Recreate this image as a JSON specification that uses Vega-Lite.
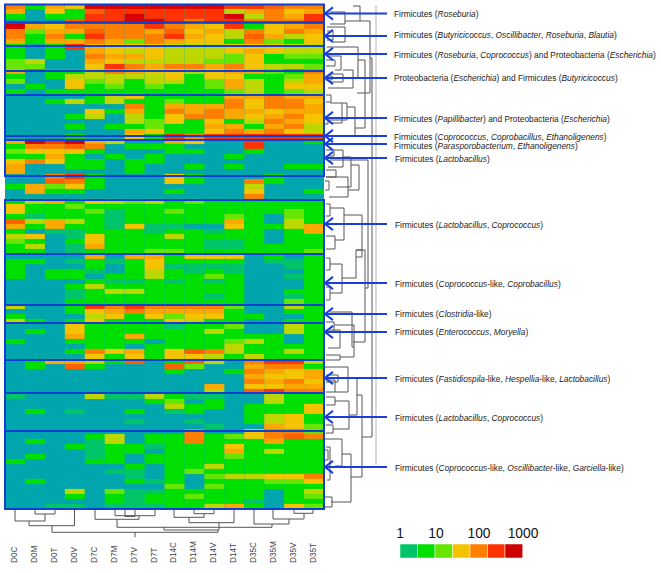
{"$schema":"https://vega.github.io/schema/vega-lite/v6.json","width":661,"height":573,"padding":0,"autosize":{"type":"fit","contains":"padding"},"background":"white","config":{"view":{"stroke":null},"axis":{"disable":true},"legend":{"disable":true}},
"resolve":{"scale":{"x":"independent","y":"independent","color":"independent"}},
"layer":[
{"data":{"values":[{"x":5,"x2":324,"y":4,"y2":509}]},"mark":{"type":"rect","fill":"#00a5ae"},"encoding":{"x":{"field":"x","type":"quantitative","scale":{"domain":[0,661],"range":[0,661]}},"x2":{"field":"x2"},"y":{"field":"y","type":"quantitative","scale":{"domain":[0,573],"range":[0,573]}},"y2":{"field":"y2"}}},
{"data":{"values":[
{"r":0,"s":"D0C","v":100},{"r":0,"s":"D0M","v":3},{"r":0,"s":"D0T","v":60},{"r":0,"s":"D0V","v":30},{"r":0,"s":"D7C","v":1000},{"r":0,"s":"D7M","v":1000},{"r":0,"s":"D7V","v":1000},{"r":0,"s":"D7T","v":1000},{"r":0,"s":"D14C","v":1000},{"r":0,"s":"D14M","v":1000},{"r":0,"s":"D14V","v":1000},{"r":0,"s":"D14T","v":300},{"r":0,"s":"D35C","v":300},{"r":0,"s":"D35M","v":200},{"r":0,"s":"D35V","v":100},{"r":0,"s":"D35T","v":100},
{"r":1,"s":"D0C","v":60},{"r":1,"s":"D0T","v":30},{"r":1,"s":"D0V","v":3},{"r":1,"s":"D7C","v":200},{"r":1,"s":"D7M","v":300},{"r":1,"s":"D7V","v":300},{"r":1,"s":"D7T","v":300},{"r":1,"s":"D14C","v":300},{"r":1,"s":"D14M","v":300},{"r":1,"s":"D14V","v":300},{"r":1,"s":"D14T","v":20},{"r":1,"s":"D35C","v":60},{"r":1,"s":"D35M","v":100},{"r":1,"s":"D35V","v":30},{"r":1,"s":"D35T","v":60},
{"r":2,"s":"D0C","v":3},{"r":2,"s":"D0T","v":3},{"r":2,"s":"D0V","v":3},{"r":2,"s":"D7C","v":300},{"r":2,"s":"D7M","v":300},{"r":2,"s":"D7V","v":1000},{"r":2,"s":"D7T","v":300},{"r":2,"s":"D14C","v":300},{"r":2,"s":"D14M","v":300},{"r":2,"s":"D14V","v":300},{"r":2,"s":"D14T","v":1000},{"r":2,"s":"D35C","v":20},{"r":2,"s":"D35M","v":100},{"r":2,"s":"D35V","v":60},{"r":2,"s":"D35T","v":300},
{"r":3,"s":"D0V","v":200},{"r":3,"s":"D7C","v":300},{"r":3,"s":"D7M","v":300},{"r":3,"s":"D7V","v":1000},{"r":3,"s":"D7T","v":1000},{"r":3,"s":"D14C","v":300},{"r":3,"s":"D14M","v":100},{"r":3,"s":"D14V","v":300},{"r":3,"s":"D14T","v":300},{"r":3,"s":"D35C","v":100},{"r":3,"s":"D35M","v":100},{"r":3,"s":"D35V","v":100},{"r":3,"s":"D35T","v":300},
{"r":4,"s":"D0C","v":1000},{"r":4,"s":"D0M","v":60},{"r":4,"s":"D0T","v":30},{"r":4,"s":"D0V","v":100},{"r":4,"s":"D7C","v":100},{"r":4,"s":"D7M","v":100},{"r":4,"s":"D7V","v":100},{"r":4,"s":"D7T","v":300},{"r":4,"s":"D14C","v":100},{"r":4,"s":"D14M","v":60},{"r":4,"s":"D14V","v":30},{"r":4,"s":"D14T","v":300},{"r":4,"s":"D35C","v":3},{"r":4,"s":"D35M","v":30},{"r":4,"s":"D35V","v":60},{"r":4,"s":"D35T","v":100},
{"r":5,"s":"D0C","v":100},{"r":5,"s":"D0M","v":10},{"r":5,"s":"D0T","v":60},{"r":5,"s":"D0V","v":60},{"r":5,"s":"D7C","v":200},{"r":5,"s":"D7M","v":100},{"r":5,"s":"D7V","v":100},{"r":5,"s":"D7T","v":60},{"r":5,"s":"D14C","v":200},{"r":5,"s":"D14M","v":30},{"r":5,"s":"D14V","v":60},{"r":5,"s":"D14T","v":20},{"r":5,"s":"D35C","v":100},{"r":5,"s":"D35M","v":30},{"r":5,"s":"D35V","v":100},{"r":5,"s":"D35T","v":60},
{"r":6,"s":"D0C","v":100},{"r":6,"s":"D0M","v":3},{"r":6,"s":"D0T","v":100},{"r":6,"s":"D0V","v":3},{"r":6,"s":"D7C","v":300},{"r":6,"s":"D7M","v":100},{"r":6,"s":"D7V","v":100},{"r":6,"s":"D7T","v":100},{"r":6,"s":"D14C","v":300},{"r":6,"s":"D14M","v":60},{"r":6,"s":"D14V","v":30},{"r":6,"s":"D14T","v":20},{"r":6,"s":"D35C","v":200},{"r":6,"s":"D35M","v":60},{"r":6,"s":"D35V","v":20},{"r":6,"s":"D35T","v":30},
{"r":7,"s":"D0C","v":60},{"r":7,"s":"D0M","v":3},{"r":7,"s":"D0T","v":60},{"r":7,"s":"D0V","v":60},{"r":7,"s":"D7C","v":100},{"r":7,"s":"D7M","v":60},{"r":7,"s":"D7V","v":10},{"r":7,"s":"D7T","v":100},{"r":7,"s":"D14C","v":60},{"r":7,"s":"D14M","v":30},{"r":7,"s":"D14V","v":30},{"r":7,"s":"D14T","v":3},{"r":7,"s":"D35C","v":100},{"r":7,"s":"D35M","v":10},{"r":7,"s":"D35V","v":3},{"r":7,"s":"D35T","v":30},
{"r":8,"s":"D0C","v":3},{"r":8,"s":"D0T","v":3},{"r":8,"s":"D0V","v":300},{"r":8,"s":"D7C","v":60},{"r":8,"s":"D7M","v":30},{"r":8,"s":"D7V","v":30},{"r":8,"s":"D7T","v":30},{"r":8,"s":"D14C","v":20},{"r":8,"s":"D14M","v":20},{"r":8,"s":"D14V","v":20},{"r":8,"s":"D14T","v":30},{"r":8,"s":"D35C","v":30},{"r":8,"s":"D35M","v":30},{"r":8,"s":"D35V","v":20},{"r":8,"s":"D35T","v":20},
{"r":9,"s":"D0C","v":3},{"r":9,"s":"D0T","v":3},{"r":9,"s":"D7C","v":60},{"r":9,"s":"D7M","v":30},{"r":9,"s":"D7V","v":20},{"r":9,"s":"D7T","v":30},{"r":9,"s":"D14C","v":20},{"r":9,"s":"D14M","v":20},{"r":9,"s":"D14V","v":20},{"r":9,"s":"D14T","v":30},{"r":9,"s":"D35C","v":60},{"r":9,"s":"D35M","v":30},{"r":9,"s":"D35V","v":20},{"r":9,"s":"D35T","v":20},
{"r":10,"s":"D0C","v":3},{"r":10,"s":"D0T","v":3},{"r":10,"s":"D7C","v":100},{"r":10,"s":"D7M","v":60},{"r":10,"s":"D7V","v":60},{"r":10,"s":"D7T","v":30},{"r":10,"s":"D14C","v":20},{"r":10,"s":"D14M","v":20},{"r":10,"s":"D14V","v":20},{"r":10,"s":"D14T","v":10},{"r":10,"s":"D35C","v":30},{"r":10,"s":"D35M","v":3},{"r":10,"s":"D35V","v":10},{"r":10,"s":"D35T","v":10},
{"r":11,"s":"D0C","v":10},{"r":11,"s":"D0M","v":20},{"r":11,"s":"D7C","v":60},{"r":11,"s":"D7M","v":30},{"r":11,"s":"D7V","v":20},{"r":11,"s":"D7T","v":20},{"r":11,"s":"D14C","v":20},{"r":11,"s":"D14M","v":20},{"r":11,"s":"D14V","v":10},{"r":11,"s":"D14T","v":10},{"r":11,"s":"D35C","v":30},{"r":11,"s":"D35M","v":3},{"r":11,"s":"D35V","v":3},{"r":11,"s":"D35T","v":3},
{"r":12,"s":"D0C","v":10},{"r":12,"s":"D0M","v":10},{"r":12,"s":"D7C","v":30},{"r":12,"s":"D7M","v":300},{"r":12,"s":"D7V","v":100},{"r":12,"s":"D7T","v":60},{"r":12,"s":"D14C","v":100},{"r":12,"s":"D14M","v":100},{"r":12,"s":"D14V","v":60},{"r":12,"s":"D14T","v":100},{"r":12,"s":"D35C","v":30},{"r":12,"s":"D35M","v":20},{"r":12,"s":"D35V","v":20},{"r":12,"s":"D35T","v":10},
{"r":13,"s":"D0C","v":60},{"r":13,"s":"D0T","v":3},{"r":13,"s":"D0V","v":3},{"r":13,"s":"D7C","v":20},{"r":13,"s":"D7M","v":100},{"r":13,"s":"D7V","v":60},{"r":13,"s":"D7T","v":30},{"r":13,"s":"D14C","v":30},{"r":13,"s":"D14M","v":20},{"r":13,"s":"D14V","v":30},{"r":13,"s":"D14T","v":60},{"r":13,"s":"D35C","v":60},{"r":13,"s":"D35M","v":10},{"r":13,"s":"D35V","v":3},{"r":13,"s":"D35T","v":100},
{"r":14,"s":"D0C","v":3},{"r":14,"s":"D0T","v":3},{"r":14,"s":"D0V","v":20},{"r":14,"s":"D7C","v":20},{"r":14,"s":"D7M","v":20},{"r":14,"s":"D7V","v":20},{"r":14,"s":"D7T","v":20},{"r":14,"s":"D14C","v":30},{"r":14,"s":"D14M","v":3},{"r":14,"s":"D14V","v":30},{"r":14,"s":"D14T","v":30},{"r":14,"s":"D35C","v":3},{"r":14,"s":"D35M","v":3},{"r":14,"s":"D35V","v":10},{"r":14,"s":"D35T","v":60},
{"r":15,"s":"D0C","v":10},{"r":15,"s":"D0V","v":30},{"r":15,"s":"D7C","v":10},{"r":15,"s":"D7M","v":20},{"r":15,"s":"D7V","v":3},{"r":15,"s":"D7T","v":20},{"r":15,"s":"D14C","v":20},{"r":15,"s":"D14M","v":3},{"r":15,"s":"D14V","v":10},{"r":15,"s":"D14T","v":60},{"r":15,"s":"D35C","v":20},{"r":15,"s":"D35M","v":3},{"r":15,"s":"D35V","v":20},{"r":15,"s":"D35T","v":60},
{"r":16,"s":"D0M","v":3},{"r":16,"s":"D0V","v":30},{"r":16,"s":"D7C","v":3},{"r":16,"s":"D7M","v":10},{"r":16,"s":"D7V","v":3},{"r":16,"s":"D7T","v":10},{"r":16,"s":"D14C","v":3},{"r":16,"s":"D14M","v":3},{"r":16,"s":"D14V","v":10},{"r":16,"s":"D14T","v":60},{"r":16,"s":"D35C","v":20},{"r":16,"s":"D35M","v":3},{"r":16,"s":"D35V","v":30},{"r":16,"s":"D35T","v":30},
{"r":17,"s":"D0C","v":3},{"r":17,"s":"D0T","v":3},{"r":17,"s":"D0V","v":3},{"r":17,"s":"D7C","v":3},{"r":17,"s":"D7M","v":3},{"r":17,"s":"D7V","v":3},{"r":17,"s":"D7T","v":3},{"r":17,"s":"D14C","v":3},{"r":17,"s":"D14M","v":3},{"r":17,"s":"D14V","v":3},{"r":17,"s":"D14T","v":10},{"r":17,"s":"D35C","v":20},{"r":17,"s":"D35M","v":3},{"r":17,"s":"D35V","v":10},{"r":17,"s":"D35T","v":20},
{"r":18,"s":"D7C","v":3},{"r":18,"s":"D7M","v":20},{"r":18,"s":"D7V","v":30},{"r":18,"s":"D7T","v":3},{"r":18,"s":"D14C","v":3},{"r":18,"s":"D14M","v":3},{"r":18,"s":"D14V","v":3},{"r":18,"s":"D14T","v":60},{"r":18,"s":"D35C","v":60},{"r":18,"s":"D35M","v":100},{"r":18,"s":"D35V","v":60},{"r":18,"s":"D35T","v":60},
{"r":19,"s":"D0T","v":3},{"r":19,"s":"D0V","v":20},{"r":19,"s":"D7C","v":3},{"r":19,"s":"D7M","v":20},{"r":19,"s":"D7V","v":3},{"r":19,"s":"D7T","v":3},{"r":19,"s":"D14C","v":10},{"r":19,"s":"D14M","v":3},{"r":19,"s":"D14V","v":3},{"r":19,"s":"D14T","v":100},{"r":19,"s":"D35C","v":30},{"r":19,"s":"D35M","v":100},{"r":19,"s":"D35V","v":100},{"r":19,"s":"D35T","v":30},
{"r":20,"s":"D7V","v":100},{"r":20,"s":"D7T","v":3},{"r":20,"s":"D14C","v":60},{"r":20,"s":"D14M","v":60},{"r":20,"s":"D14V","v":60},{"r":20,"s":"D14T","v":100},{"r":20,"s":"D35C","v":30},{"r":20,"s":"D35M","v":100},{"r":20,"s":"D35V","v":100},{"r":20,"s":"D35T","v":60},
{"r":21,"s":"D7C","v":30},{"r":21,"s":"D7M","v":3},{"r":21,"s":"D7V","v":60},{"r":21,"s":"D7T","v":3},{"r":21,"s":"D14C","v":100},{"r":21,"s":"D14M","v":60},{"r":21,"s":"D14V","v":100},{"r":21,"s":"D14T","v":60},{"r":21,"s":"D35C","v":60},{"r":21,"s":"D35M","v":30},{"r":21,"s":"D35V","v":60},{"r":21,"s":"D35T","v":60},
{"r":22,"s":"D0V","v":3},{"r":22,"s":"D7C","v":20},{"r":22,"s":"D7V","v":20},{"r":22,"s":"D7T","v":3},{"r":22,"s":"D14C","v":30},{"r":22,"s":"D14M","v":100},{"r":22,"s":"D14V","v":100},{"r":22,"s":"D14T","v":60},{"r":22,"s":"D35C","v":30},{"r":22,"s":"D35M","v":60},{"r":22,"s":"D35V","v":100},{"r":22,"s":"D35T","v":30},
{"r":23,"s":"D7V","v":20},{"r":23,"s":"D7T","v":10},{"r":23,"s":"D14C","v":30},{"r":23,"s":"D14M","v":3},{"r":23,"s":"D14V","v":30},{"r":23,"s":"D14T","v":3},{"r":23,"s":"D35C","v":20},{"r":23,"s":"D35M","v":100},{"r":23,"s":"D35V","v":60},{"r":23,"s":"D35T","v":30},
{"r":24,"s":"D0V","v":3},{"r":24,"s":"D7M","v":3},{"r":24,"s":"D7V","v":3},{"r":24,"s":"D7T","v":10},{"r":24,"s":"D14C","v":3},{"r":24,"s":"D14M","v":3},{"r":24,"s":"D14V","v":60},{"r":24,"s":"D14T","v":60},{"r":24,"s":"D35C","v":3},{"r":24,"s":"D35M","v":60},{"r":24,"s":"D35V","v":100},{"r":24,"s":"D35T","v":20},
{"r":25,"s":"D7V","v":60},{"r":25,"s":"D7T","v":30},{"r":25,"s":"D14C","v":3},{"r":25,"s":"D14M","v":3},{"r":25,"s":"D14V","v":30},{"r":25,"s":"D14T","v":100},{"r":25,"s":"D35C","v":60},{"r":25,"s":"D35M","v":100},{"r":25,"s":"D35V","v":30},{"r":25,"s":"D35T","v":20},
{"r":26,"s":"D0V","v":3},{"r":26,"s":"D7V","v":30},{"r":26,"s":"D7T","v":3},{"r":26,"s":"D14C","v":300},{"r":26,"s":"D14M","v":100},{"r":26,"s":"D14V","v":300},{"r":26,"s":"D14T","v":300},{"r":26,"s":"D35C","v":300},{"r":26,"s":"D35M","v":300},{"r":26,"s":"D35V","v":300},{"r":26,"s":"D35T","v":300},
{"r":27,"s":"D0C","v":60},{"r":27,"s":"D0M","v":1000},{"r":27,"s":"D0T","v":300},{"r":27,"s":"D0V","v":1000},{"r":27,"s":"D7C","v":60},{"r":27,"s":"D7M","v":20},{"r":27,"s":"D14C","v":60},{"r":27,"s":"D14M","v":30},{"r":27,"s":"D35C","v":300},{"r":27,"s":"D35T","v":3},
{"r":28,"s":"D0C","v":3},{"r":28,"s":"D0M","v":100},{"r":28,"s":"D0T","v":100},{"r":28,"s":"D0V","v":200},{"r":28,"s":"D7C","v":100},{"r":28,"s":"D7V","v":3},{"r":28,"s":"D7T","v":3},{"r":28,"s":"D14C","v":3},{"r":28,"s":"D35C","v":300},
{"r":29,"s":"D0C","v":10},{"r":29,"s":"D0M","v":30},{"r":29,"s":"D0T","v":30},{"r":29,"s":"D0V","v":30},{"r":29,"s":"D7C","v":3},{"r":29,"s":"D14C","v":3},{"r":29,"s":"D14M","v":3},{"r":29,"s":"D35C","v":3},
{"r":30,"s":"D0C","v":3},{"r":30,"s":"D0M","v":3},{"r":30,"s":"D0T","v":60},{"r":30,"s":"D0V","v":3},{"r":30,"s":"D7M","v":3},{"r":30,"s":"D7T","v":3},{"r":30,"s":"D14T","v":3},
{"r":31,"s":"D0C","v":30},{"r":31,"s":"D0M","v":100},{"r":31,"s":"D0T","v":30},{"r":31,"s":"D0V","v":3},{"r":31,"s":"D7C","v":3},{"r":31,"s":"D7V","v":3},{"r":31,"s":"D7T","v":3},
{"r":32,"s":"D0C","v":60},{"r":32,"s":"D0V","v":3},{"r":32,"s":"D7C","v":3},{"r":32,"s":"D7V","v":3},{"r":32,"s":"D14M","v":3},{"r":32,"s":"D14T","v":3},{"r":32,"s":"D35V","v":3},{"r":32,"s":"D35T","v":3},
{"r":33,"s":"D0C","v":60},{"r":33,"s":"D7V","v":3},
{"r":34,"s":"D0T","v":100},{"r":34,"s":"D0V","v":300},{"r":34,"s":"D7C","v":3},{"r":34,"s":"D14C","v":30},{"r":34,"s":"D14M","v":3},{"r":34,"s":"D35M","v":3},
{"r":35,"s":"D0T","v":200},{"r":35,"s":"D0V","v":100},{"r":35,"s":"D7C","v":3},{"r":35,"s":"D14C","v":30},{"r":35,"s":"D14M","v":3},{"r":35,"s":"D35C","v":100},{"r":35,"s":"D35M","v":3},
{"r":36,"s":"D0C","v":3},{"r":36,"s":"D0M","v":60},{"r":36,"s":"D0T","v":10},{"r":36,"s":"D0V","v":30},{"r":36,"s":"D7C","v":3},{"r":36,"s":"D35C","v":20},
{"r":37,"s":"D0M","v":60},{"r":37,"s":"D0T","v":3},{"r":37,"s":"D0V","v":3},{"r":37,"s":"D14C","v":3},{"r":37,"s":"D35C","v":30},{"r":37,"s":"D35T","v":3},
{"r":38,"s":"D35C","v":100},
{"r":39,"s":"D0C","v":3},{"r":39,"s":"D0M","v":20},{"r":39,"s":"D0T","v":60},{"r":39,"s":"D0V","v":3},{"r":39,"s":"D7C","v":30},{"r":39,"s":"D7M","v":20},{"r":39,"s":"D7V","v":10},{"r":39,"s":"D7T","v":20},{"r":39,"s":"D14C","v":3},{"r":39,"s":"D14M","v":10},{"r":39,"s":"D14V","v":3},{"r":39,"s":"D14T","v":3},{"r":39,"s":"D35C","v":3},{"r":39,"s":"D35M","v":3},{"r":39,"s":"D35V","v":3},{"r":39,"s":"D35T","v":3},
{"r":40,"s":"D0C","v":30},{"r":40,"s":"D0M","v":3},{"r":40,"s":"D0T","v":3},{"r":40,"s":"D0V","v":10},{"r":40,"s":"D7C","v":3},{"r":40,"s":"D7M","v":3},{"r":40,"s":"D7V","v":3},{"r":40,"s":"D7T","v":3},{"r":40,"s":"D14C","v":3},{"r":40,"s":"D14M","v":3},{"r":40,"s":"D14V","v":3},{"r":40,"s":"D14T","v":3},{"r":40,"s":"D35C","v":3},{"r":40,"s":"D35M","v":3},{"r":40,"s":"D35V","v":3},{"r":40,"s":"D35T","v":3},
{"r":41,"s":"D0C","v":30},{"r":41,"s":"D0M","v":3},{"r":41,"s":"D0T","v":3},{"r":41,"s":"D0V","v":3},{"r":41,"s":"D7C","v":10},{"r":41,"s":"D7M","v":1},{"r":41,"s":"D7V","v":3},{"r":41,"s":"D7T","v":3},{"r":41,"s":"D14C","v":10},{"r":41,"s":"D14M","v":3},{"r":41,"s":"D14V","v":3},{"r":41,"s":"D14T","v":3},{"r":41,"s":"D35C","v":3},{"r":41,"s":"D35M","v":3},{"r":41,"s":"D35V","v":10},{"r":41,"s":"D35T","v":3},
{"r":42,"s":"D0C","v":3},{"r":42,"s":"D0M","v":1},{"r":42,"s":"D0T","v":3},{"r":42,"s":"D0V","v":3},{"r":42,"s":"D7C","v":3},{"r":42,"s":"D7M","v":1},{"r":42,"s":"D7V","v":3},{"r":42,"s":"D7T","v":3},{"r":42,"s":"D14C","v":3},{"r":42,"s":"D14M","v":3},{"r":42,"s":"D14V","v":3},{"r":42,"s":"D14T","v":10},{"r":42,"s":"D35C","v":3},{"r":42,"s":"D35V","v":10},{"r":42,"s":"D35T","v":3},
{"r":43,"s":"D0C","v":200},{"r":43,"s":"D0M","v":20},{"r":43,"s":"D0T","v":60},{"r":43,"s":"D0V","v":20},{"r":43,"s":"D7C","v":3},{"r":43,"s":"D7M","v":1},{"r":43,"s":"D7V","v":3},{"r":43,"s":"D7T","v":3},{"r":43,"s":"D14C","v":3},{"r":43,"s":"D14M","v":3},{"r":43,"s":"D14V","v":3},{"r":43,"s":"D14T","v":60},{"r":43,"s":"D35C","v":3},{"r":43,"s":"D35V","v":20},{"r":43,"s":"D35T","v":3},
{"r":44,"s":"D0C","v":60},{"r":44,"s":"D0M","v":3},{"r":44,"s":"D0T","v":60},{"r":44,"s":"D0V","v":3},{"r":44,"s":"D7C","v":3},{"r":44,"s":"D7M","v":1},{"r":44,"s":"D7V","v":30},{"r":44,"s":"D7T","v":1},{"r":44,"s":"D14C","v":1},{"r":44,"s":"D14T","v":30},{"r":44,"s":"D35C","v":3},{"r":44,"s":"D35M","v":3},{"r":44,"s":"D35V","v":20},{"r":44,"s":"D35T","v":60},
{"r":45,"s":"D0C","v":3},{"r":45,"s":"D0T","v":1},{"r":45,"s":"D0V","v":1},{"r":45,"s":"D7C","v":3},{"r":45,"s":"D7M","v":3},{"r":45,"s":"D7V","v":3},{"r":45,"s":"D7T","v":1},{"r":45,"s":"D14C","v":3},{"r":45,"s":"D14M","v":3},{"r":45,"s":"D14V","v":1},{"r":45,"s":"D14T","v":3},{"r":45,"s":"D35C","v":3},{"r":45,"s":"D35V","v":3},{"r":45,"s":"D35T","v":60},
{"r":46,"s":"D0C","v":20},{"r":46,"s":"D0M","v":30},{"r":46,"s":"D0V","v":1},{"r":46,"s":"D7C","v":30},{"r":46,"s":"D7M","v":3},{"r":46,"s":"D7V","v":3},{"r":46,"s":"D7T","v":3},{"r":46,"s":"D14C","v":20},{"r":46,"s":"D14M","v":3},{"r":46,"s":"D14V","v":3},{"r":46,"s":"D14T","v":3},{"r":46,"s":"D35C","v":3},{"r":46,"s":"D35V","v":3},{"r":46,"s":"D35T","v":3},
{"r":47,"s":"D0C","v":10},{"r":47,"s":"D0M","v":3},{"r":47,"s":"D0V","v":3},{"r":47,"s":"D7C","v":30},{"r":47,"s":"D7M","v":3},{"r":47,"s":"D7V","v":3},{"r":47,"s":"D7T","v":3},{"r":47,"s":"D14C","v":3},{"r":47,"s":"D14M","v":3},{"r":47,"s":"D14V","v":1},{"r":47,"s":"D14T","v":1},{"r":47,"s":"D35C","v":3},{"r":47,"s":"D35V","v":3},{"r":47,"s":"D35T","v":3},
{"r":48,"s":"D0C","v":3},{"r":48,"s":"D0M","v":20},{"r":48,"s":"D0V","v":1},{"r":48,"s":"D7C","v":60},{"r":48,"s":"D7M","v":3},{"r":48,"s":"D7V","v":3},{"r":48,"s":"D7T","v":3},{"r":48,"s":"D14C","v":3},{"r":48,"s":"D14M","v":3},{"r":48,"s":"D14V","v":1},{"r":48,"s":"D14T","v":1},{"r":48,"s":"D35C","v":3},{"r":48,"s":"D35M","v":3},{"r":48,"s":"D35V","v":3},{"r":48,"s":"D35T","v":3},
{"r":49,"s":"D0C","v":3},{"r":49,"s":"D0M","v":3},{"r":49,"s":"D0V","v":1},{"r":49,"s":"D7C","v":3},{"r":49,"s":"D7M","v":3},{"r":49,"s":"D7V","v":3},{"r":49,"s":"D7T","v":10},{"r":49,"s":"D14C","v":10},{"r":49,"s":"D14M","v":3},{"r":49,"s":"D14V","v":3},{"r":49,"s":"D14T","v":3},{"r":49,"s":"D35C","v":3},{"r":49,"s":"D35M","v":3},{"r":49,"s":"D35V","v":3},{"r":49,"s":"D35T","v":10},
{"r":50,"s":"D7C","v":60},{"r":50,"s":"D7V","v":60},{"r":50,"s":"D7T","v":60},{"r":50,"s":"D14C","v":3},{"r":50,"s":"D14M","v":30},{"r":50,"s":"D14V","v":30},{"r":50,"s":"D14T","v":30},{"r":50,"s":"D35M","v":3},{"r":50,"s":"D35T","v":3},
{"r":51,"s":"D0C","v":3},{"r":51,"s":"D0M","v":3},{"r":51,"s":"D0V","v":1},{"r":51,"s":"D7C","v":3},{"r":51,"s":"D7M","v":1},{"r":51,"s":"D7V","v":3},{"r":51,"s":"D7T","v":30},{"r":51,"s":"D14C","v":3},{"r":51,"s":"D14M","v":3},{"r":51,"s":"D14V","v":3},{"r":51,"s":"D14T","v":3},{"r":51,"s":"D35M","v":1},{"r":51,"s":"D35V","v":1},{"r":51,"s":"D35T","v":3},
{"r":52,"s":"D0C","v":3},{"r":52,"s":"D7C","v":3},{"r":52,"s":"D7V","v":3},{"r":52,"s":"D7T","v":30},{"r":52,"s":"D14C","v":1},{"r":52,"s":"D14M","v":1},{"r":52,"s":"D14V","v":1},{"r":52,"s":"D14T","v":1},{"r":52,"s":"D35V","v":1},{"r":52,"s":"D35T","v":3},
{"r":53,"s":"D0C","v":3},{"r":53,"s":"D0T","v":3},{"r":53,"s":"D0V","v":3},{"r":53,"s":"D7C","v":1},{"r":53,"s":"D7V","v":3},{"r":53,"s":"D7T","v":20},{"r":53,"s":"D14C","v":3},{"r":53,"s":"D14M","v":1},{"r":53,"s":"D14V","v":3},{"r":53,"s":"D14T","v":1},{"r":53,"s":"D35T","v":3},
{"r":54,"s":"D0C","v":3},{"r":54,"s":"D0T","v":3},{"r":54,"s":"D0V","v":3},{"r":54,"s":"D7M","v":3},{"r":54,"s":"D7V","v":3},{"r":54,"s":"D7T","v":20},{"r":54,"s":"D14C","v":3},{"r":54,"s":"D14M","v":3},{"r":54,"s":"D14V","v":10},{"r":54,"s":"D14T","v":3},{"r":54,"s":"D35V","v":1},{"r":54,"s":"D35T","v":3},
{"r":55,"s":"D7C","v":3},{"r":55,"s":"D7M","v":1},{"r":55,"s":"D7V","v":1},{"r":55,"s":"D7T","v":3},{"r":55,"s":"D14C","v":1},{"r":55,"s":"D14M","v":3},{"r":55,"s":"D14V","v":1},{"r":55,"s":"D14T","v":3},{"r":55,"s":"D35T","v":3},
{"r":56,"s":"D0V","v":3},{"r":56,"s":"D7C","v":20},{"r":56,"s":"D7M","v":3},{"r":56,"s":"D7V","v":3},{"r":56,"s":"D7T","v":3},{"r":56,"s":"D14C","v":3},{"r":56,"s":"D14M","v":3},{"r":56,"s":"D14V","v":3},{"r":56,"s":"D14T","v":3},{"r":56,"s":"D35T","v":3},
{"r":57,"s":"D0V","v":1},{"r":57,"s":"D7C","v":3},{"r":57,"s":"D7M","v":20},{"r":57,"s":"D7V","v":20},{"r":57,"s":"D7T","v":3},{"r":57,"s":"D14C","v":3},{"r":57,"s":"D14M","v":3},{"r":57,"s":"D14V","v":3},{"r":57,"s":"D14T","v":3},{"r":57,"s":"D35V","v":3},{"r":57,"s":"D35T","v":3},
{"r":58,"s":"D0V","v":1},{"r":58,"s":"D7C","v":3},{"r":58,"s":"D7M","v":3},{"r":58,"s":"D7V","v":3},{"r":58,"s":"D7T","v":3},{"r":58,"s":"D14C","v":3},{"r":58,"s":"D14M","v":3},{"r":58,"s":"D14V","v":1},{"r":58,"s":"D14T","v":3},{"r":58,"s":"D35V","v":1},{"r":58,"s":"D35T","v":3},
{"r":59,"s":"D0V","v":3},{"r":59,"s":"D7C","v":3},{"r":59,"s":"D7M","v":3},{"r":59,"s":"D7V","v":3},{"r":59,"s":"D7T","v":3},{"r":59,"s":"D14C","v":3},{"r":59,"s":"D14M","v":3},{"r":59,"s":"D14V","v":3},{"r":59,"s":"D14T","v":3},{"r":59,"s":"D35V","v":10},{"r":59,"s":"D35T","v":3},
{"r":60,"s":"D0C","v":20},{"r":60,"s":"D0V","v":3},{"r":60,"s":"D7C","v":300},{"r":60,"s":"D7M","v":100},{"r":60,"s":"D7V","v":300},{"r":60,"s":"D7T","v":100},{"r":60,"s":"D14C","v":100},{"r":60,"s":"D14M","v":100},{"r":60,"s":"D14V","v":100},{"r":60,"s":"D14T","v":10},{"r":60,"s":"D35V","v":20},{"r":60,"s":"D35T","v":3},
{"r":61,"s":"D0V","v":3},{"r":61,"s":"D7C","v":30},{"r":61,"s":"D7M","v":60},{"r":61,"s":"D7V","v":100},{"r":61,"s":"D7T","v":60},{"r":61,"s":"D14C","v":60},{"r":61,"s":"D14M","v":60},{"r":61,"s":"D14V","v":60},{"r":61,"s":"D14T","v":3},{"r":61,"s":"D35V","v":3},{"r":61,"s":"D35T","v":3},
{"r":62,"s":"D0C","v":3},{"r":62,"s":"D7C","v":20},{"r":62,"s":"D7M","v":30},{"r":62,"s":"D7V","v":3},{"r":62,"s":"D7T","v":30},{"r":62,"s":"D14C","v":10},{"r":62,"s":"D14M","v":30},{"r":62,"s":"D14V","v":30},{"r":62,"s":"D14T","v":3},{"r":62,"s":"D35C","v":3},{"r":62,"s":"D35T","v":3},
{"r":63,"s":"D0C","v":20},{"r":63,"s":"D0M","v":3},{"r":63,"s":"D0V","v":3},{"r":63,"s":"D7C","v":30},{"r":63,"s":"D7M","v":3},{"r":63,"s":"D7V","v":3},{"r":63,"s":"D7T","v":3},{"r":63,"s":"D14C","v":30},{"r":63,"s":"D14M","v":20},{"r":63,"s":"D14V","v":3},{"r":63,"s":"D14T","v":3},{"r":63,"s":"D35V","v":3},{"r":63,"s":"D35T","v":3},
{"r":64,"s":"D0V","v":30},{"r":64,"s":"D7C","v":3},{"r":64,"s":"D7M","v":3},{"r":64,"s":"D7V","v":3},{"r":64,"s":"D7T","v":3},{"r":64,"s":"D14C","v":1},{"r":64,"s":"D14M","v":3},{"r":64,"s":"D14V","v":3},{"r":64,"s":"D14T","v":10},{"r":64,"s":"D35V","v":20},{"r":64,"s":"D35T","v":3},
{"r":65,"s":"D0M","v":3},{"r":65,"s":"D0V","v":30},{"r":65,"s":"D7C","v":3},{"r":65,"s":"D7M","v":3},{"r":65,"s":"D7V","v":3},{"r":65,"s":"D7T","v":3},{"r":65,"s":"D14C","v":3},{"r":65,"s":"D14M","v":3},{"r":65,"s":"D14V","v":20},{"r":65,"s":"D14T","v":3},{"r":65,"s":"D35V","v":20},{"r":65,"s":"D35T","v":3},
{"r":66,"s":"D0V","v":60},{"r":66,"s":"D7C","v":3},{"r":66,"s":"D7M","v":3},{"r":66,"s":"D7V","v":60},{"r":66,"s":"D7T","v":3},{"r":66,"s":"D14C","v":3},{"r":66,"s":"D14M","v":3},{"r":66,"s":"D14V","v":3},{"r":66,"s":"D14T","v":3},{"r":66,"s":"D35C","v":3},{"r":66,"s":"D35M","v":3},{"r":66,"s":"D35T","v":3},
{"r":67,"s":"D0C","v":3},{"r":67,"s":"D0V","v":3},{"r":67,"s":"D7C","v":3},{"r":67,"s":"D7M","v":3},{"r":67,"s":"D7V","v":3},{"r":67,"s":"D14C","v":3},{"r":67,"s":"D14M","v":3},{"r":67,"s":"D14V","v":3},{"r":67,"s":"D14T","v":10},{"r":67,"s":"D35C","v":20},{"r":67,"s":"D35M","v":3},{"r":67,"s":"D35T","v":3},
{"r":68,"s":"D7C","v":3},{"r":68,"s":"D7M","v":3},{"r":68,"s":"D7T","v":3},{"r":68,"s":"D14C","v":3},{"r":68,"s":"D14M","v":3},{"r":68,"s":"D14V","v":3},{"r":68,"s":"D14T","v":20},{"r":68,"s":"D35C","v":3},{"r":68,"s":"D35M","v":3},{"r":68,"s":"D35V","v":3},{"r":68,"s":"D35T","v":3},
{"r":69,"s":"D0V","v":3},{"r":69,"s":"D7C","v":100},{"r":69,"s":"D7M","v":30},{"r":69,"s":"D7V","v":60},{"r":69,"s":"D7T","v":3},{"r":69,"s":"D14C","v":30},{"r":69,"s":"D14M","v":200},{"r":69,"s":"D14V","v":100},{"r":69,"s":"D14T","v":20},{"r":69,"s":"D35C","v":3},{"r":69,"s":"D35M","v":3},{"r":69,"s":"D35V","v":20},{"r":69,"s":"D35T","v":3},
{"r":70,"s":"D7C","v":30},{"r":70,"s":"D7M","v":3},{"r":70,"s":"D7V","v":30},{"r":70,"s":"D7T","v":3},{"r":70,"s":"D14C","v":30},{"r":70,"s":"D14M","v":30},{"r":70,"s":"D14V","v":20},{"r":70,"s":"D14T","v":3},{"r":70,"s":"D35C","v":20},{"r":70,"s":"D35M","v":3},{"r":70,"s":"D35V","v":3},{"r":70,"s":"D35T","v":3},
{"r":71,"s":"D0M","v":3},{"r":71,"s":"D0T","v":60},{"r":71,"s":"D0V","v":60},{"r":71,"s":"D7C","v":20},{"r":71,"s":"D7M","v":3},{"r":71,"s":"D7V","v":200},{"r":71,"s":"D14C","v":3},{"r":71,"s":"D14M","v":200},{"r":71,"s":"D14V","v":20},{"r":71,"s":"D35C","v":100},{"r":71,"s":"D35M","v":300},{"r":71,"s":"D35V","v":300},{"r":71,"s":"D35T","v":20},
{"r":72,"s":"D0M","v":3},{"r":72,"s":"D0V","v":200},{"r":72,"s":"D7C","v":3},{"r":72,"s":"D14C","v":200},{"r":72,"s":"D14M","v":10},{"r":72,"s":"D35C","v":60},{"r":72,"s":"D35M","v":100},{"r":72,"s":"D35V","v":100},{"r":72,"s":"D35T","v":3},
{"r":73,"s":"D14C","v":3},{"r":73,"s":"D14T","v":3},{"r":73,"s":"D35C","v":100},{"r":73,"s":"D35M","v":60},{"r":73,"s":"D35V","v":30},{"r":73,"s":"D35T","v":60},
{"r":74,"s":"D35C","v":60},{"r":74,"s":"D35M","v":30},{"r":74,"s":"D35V","v":30},{"r":74,"s":"D35T","v":60},
{"r":75,"s":"D35C","v":100},{"r":75,"s":"D35M","v":60},{"r":75,"s":"D35V","v":100},{"r":75,"s":"D35T","v":30},
{"r":76,"s":"D14V","v":60},{"r":76,"s":"D35C","v":30},{"r":76,"s":"D35M","v":30},{"r":76,"s":"D35V","v":60},{"r":76,"s":"D35T","v":60},
{"r":77,"s":"D14V","v":20},{"r":77,"s":"D35C","v":200},{"r":77,"s":"D35M","v":300},{"r":77,"s":"D35V","v":100},{"r":77,"s":"D35T","v":100},
{"r":78,"s":"D0C","v":1},{"r":78,"s":"D7C","v":20},{"r":78,"s":"D7M","v":1},{"r":78,"s":"D7V","v":1},{"r":78,"s":"D7T","v":20},{"r":78,"s":"D14C","v":3},{"r":78,"s":"D14M","v":1},{"r":78,"s":"D14V","v":1},{"r":78,"s":"D35M","v":20},{"r":78,"s":"D35V","v":3},{"r":78,"s":"D35T","v":3},
{"r":79,"s":"D7T","v":3},{"r":79,"s":"D14C","v":10},{"r":79,"s":"D14V","v":3},{"r":79,"s":"D35M","v":20},{"r":79,"s":"D35V","v":3},{"r":79,"s":"D35T","v":3},
{"r":80,"s":"D14C","v":20},{"r":80,"s":"D14M","v":3},{"r":80,"s":"D14V","v":3},{"r":80,"s":"D35C","v":3},{"r":80,"s":"D35M","v":3},{"r":80,"s":"D35V","v":3},{"r":80,"s":"D35T","v":30},
{"r":81,"s":"D0M","v":3},{"r":81,"s":"D0V","v":1},{"r":81,"s":"D7V","v":3},{"r":81,"s":"D14C","v":1},{"r":81,"s":"D14M","v":3},{"r":81,"s":"D35C","v":3},{"r":81,"s":"D35M","v":3},{"r":81,"s":"D35V","v":3},{"r":81,"s":"D35T","v":30},
{"r":82,"s":"D35C","v":3},{"r":82,"s":"D35M","v":20},{"r":82,"s":"D35V","v":30},{"r":82,"s":"D35T","v":3},
{"r":83,"s":"D7V","v":1},{"r":83,"s":"D14M","v":1},{"r":83,"s":"D35C","v":3},{"r":83,"s":"D35M","v":20},{"r":83,"s":"D35V","v":30},{"r":83,"s":"D35T","v":3},
{"r":84,"s":"D14V","v":1},{"r":84,"s":"D35M","v":60},{"r":84,"s":"D35V","v":30},{"r":84,"s":"D35T","v":10},
{"r":85,"s":"D14M","v":100},{"r":85,"s":"D35C","v":30},{"r":85,"s":"D35M","v":100},{"r":85,"s":"D35V","v":100},{"r":85,"s":"D35T","v":10},
{"r":86,"s":"D7C","v":3},{"r":86,"s":"D7M","v":20},{"r":86,"s":"D7T","v":3},{"r":86,"s":"D14C","v":3},{"r":86,"s":"D14M","v":100},{"r":86,"s":"D14V","v":3},{"r":86,"s":"D14T","v":10},{"r":86,"s":"D35C","v":30},{"r":86,"s":"D35M","v":100},{"r":86,"s":"D35V","v":200},{"r":86,"s":"D35T","v":100},
{"r":87,"s":"D0M","v":3},{"r":87,"s":"D7C","v":1},{"r":87,"s":"D7M","v":20},{"r":87,"s":"D7T","v":3},{"r":87,"s":"D14C","v":3},{"r":87,"s":"D14M","v":100},{"r":87,"s":"D14V","v":3},{"r":87,"s":"D14T","v":3},{"r":87,"s":"D35C","v":3},{"r":87,"s":"D35M","v":60},{"r":87,"s":"D35V","v":3},{"r":87,"s":"D35T","v":3},
{"r":88,"s":"D0V","v":3},{"r":88,"s":"D7C","v":1},{"r":88,"s":"D7M","v":3},{"r":88,"s":"D7V","v":3},{"r":88,"s":"D7T","v":1},{"r":88,"s":"D14C","v":3},{"r":88,"s":"D14M","v":3},{"r":88,"s":"D14V","v":3},{"r":88,"s":"D14T","v":30},{"r":88,"s":"D35C","v":3},{"r":88,"s":"D35M","v":3},{"r":88,"s":"D35V","v":3},{"r":88,"s":"D35T","v":3},
{"r":89,"s":"D7C","v":1},{"r":89,"s":"D7M","v":3},{"r":89,"s":"D7V","v":3},{"r":89,"s":"D14C","v":3},{"r":89,"s":"D14M","v":3},{"r":89,"s":"D14V","v":3},{"r":89,"s":"D14T","v":60},{"r":89,"s":"D35C","v":3},{"r":89,"s":"D35M","v":20},{"r":89,"s":"D35V","v":3},{"r":89,"s":"D35T","v":3},
{"r":90,"s":"D0M","v":3},{"r":90,"s":"D7C","v":1},{"r":90,"s":"D7M","v":3},{"r":90,"s":"D7T","v":3},{"r":90,"s":"D14C","v":3},{"r":90,"s":"D14M","v":3},{"r":90,"s":"D14V","v":3},{"r":90,"s":"D14T","v":10},{"r":90,"s":"D35C","v":3},{"r":90,"s":"D35M","v":3},{"r":90,"s":"D35V","v":3},{"r":90,"s":"D35T","v":3},
{"r":91,"s":"D0C","v":3},{"r":91,"s":"D7C","v":3},{"r":91,"s":"D7M","v":3},{"r":91,"s":"D7T","v":3},{"r":91,"s":"D14C","v":3},{"r":91,"s":"D14M","v":3},{"r":91,"s":"D14V","v":3},{"r":91,"s":"D14T","v":3},{"r":91,"s":"D35C","v":3},{"r":91,"s":"D35M","v":3},{"r":91,"s":"D35V","v":3},{"r":91,"s":"D35T","v":3},
{"r":92,"s":"D7V","v":3},{"r":92,"s":"D14C","v":3},{"r":92,"s":"D14M","v":3},{"r":92,"s":"D14V","v":20},{"r":92,"s":"D14T","v":3},{"r":92,"s":"D35C","v":3},{"r":92,"s":"D35M","v":3},{"r":92,"s":"D35V","v":3},{"r":92,"s":"D35T","v":3},
{"r":93,"s":"D7M","v":1},{"r":93,"s":"D7V","v":1},{"r":93,"s":"D14C","v":3},{"r":93,"s":"D14M","v":10},{"r":93,"s":"D14V","v":3},{"r":93,"s":"D14T","v":3},{"r":93,"s":"D35C","v":3},{"r":93,"s":"D35M","v":3},{"r":93,"s":"D35V","v":3},{"r":93,"s":"D35T","v":3},
{"r":94,"s":"D7V","v":1},{"r":94,"s":"D14C","v":3},{"r":94,"s":"D14V","v":10},{"r":94,"s":"D14T","v":20},{"r":94,"s":"D35C","v":20},{"r":94,"s":"D35M","v":30},{"r":94,"s":"D35V","v":30},{"r":94,"s":"D35T","v":100},
{"r":95,"s":"D0M","v":3},{"r":95,"s":"D7V","v":3},{"r":95,"s":"D7T","v":1},{"r":95,"s":"D14C","v":3},{"r":95,"s":"D14V","v":3},{"r":95,"s":"D14T","v":3},{"r":95,"s":"D35C","v":3},{"r":95,"s":"D35M","v":10},{"r":95,"s":"D35V","v":10},{"r":95,"s":"D35T","v":30},
{"r":96,"s":"D14C","v":10},{"r":96,"s":"D14V","v":10},{"r":96,"s":"D14T","v":3},{"r":96,"s":"D35C","v":3},{"r":96,"s":"D35M","v":3},{"r":96,"s":"D35V","v":3},{"r":96,"s":"D35T","v":3},
{"r":97,"s":"D0V","v":20},{"r":97,"s":"D7M","v":10},{"r":97,"s":"D7V","v":1},{"r":97,"s":"D7T","v":1},{"r":97,"s":"D14C","v":3},{"r":97,"s":"D14M","v":3},{"r":97,"s":"D14V","v":3},{"r":97,"s":"D14T","v":3},{"r":97,"s":"D35C","v":3},{"r":97,"s":"D35V","v":3},{"r":97,"s":"D35T","v":20},
{"r":98,"s":"D0V","v":3},{"r":98,"s":"D7M","v":3},{"r":98,"s":"D7V","v":1},{"r":98,"s":"D7T","v":3},{"r":98,"s":"D14C","v":3},{"r":98,"s":"D14M","v":10},{"r":98,"s":"D14V","v":3},{"r":98,"s":"D14T","v":3},{"r":98,"s":"D35C","v":3},{"r":98,"s":"D35V","v":3},{"r":98,"s":"D35T","v":10},
{"r":99,"s":"D7M","v":3},{"r":99,"s":"D7V","v":1},{"r":99,"s":"D7T","v":3},{"r":99,"s":"D14C","v":3},{"r":99,"s":"D14M","v":3},{"r":99,"s":"D14V","v":3},{"r":99,"s":"D14T","v":3},{"r":99,"s":"D35C","v":1},{"r":99,"s":"D35V","v":3},{"r":99,"s":"D35T","v":3},
{"r":100,"s":"D0T","v":1},{"r":100,"s":"D0V","v":1},{"r":100,"s":"D7M","v":1},{"r":100,"s":"D7V","v":1},{"r":100,"s":"D7T","v":1},{"r":100,"s":"D14C","v":3},{"r":100,"s":"D14M","v":3},{"r":100,"s":"D14V","v":20},{"r":100,"s":"D14T","v":60},{"r":100,"s":"D35C","v":3},{"r":100,"s":"D35V","v":30},{"r":100,"s":"D35T","v":10}
]},"mark":{"type":"rect","height":5.2},"encoding":{"x":{"field":"s","type":"nominal","sort":null,"scale":{"domain":["D0C","D0M","D0T","D0V","D7C","D7M","D7V","D7T","D14C","D14M","D14V","D14T","D35C","D35M","D35V","D35T"],"range":[5,324],"paddingInner":0,"paddingOuter":0}},"y":{"field":"r","type":"quantitative","scale":{"domain":[-0.5,100.5],"range":[4,509]}},"color":{"field":"v","type":"quantitative","scale":{"type":"linear","domain":[1,3,10,30,100,300,1000],"range":["#00c46a","#00e000","#66e600","#f5c400","#ff8000","#ff3300","#d80000"]}}}},
{"data":{"values":[{"s":"D0C"},{"s":"D0M"},{"s":"D0T"},{"s":"D0V"},{"s":"D7C"},{"s":"D7M"},{"s":"D7V"},{"s":"D7T"},{"s":"D14C"},{"s":"D14M"},{"s":"D14V"},{"s":"D14T"},{"s":"D35C"},{"s":"D35M"},{"s":"D35V"},{"s":"D35T"}]},"mark":{"type":"text","angle":270,"align":"left","baseline":"middle","font":"Liberation Sans","fontSize":8.2,"color":"#444"},"encoding":{"x":{"field":"s","type":"nominal","sort":null,"scale":{"domain":["D0C","D0M","D0T","D0V","D7C","D7M","D7V","D7T","D14C","D14M","D14V","D14T","D35C","D35M","D35V","D35T"],"range":[5,324],"paddingInner":0,"paddingOuter":0}},"y":{"datum":563,"type":"quantitative","scale":{"domain":[0,573],"range":[0,573]}},"text":{"field":"s"}}},
{"layer":[
{"data":{"values":[{"x":376,"y":5,"y2":465}]},"mark":{"type":"rule","color":"#cfcfcf","strokeWidth":1.5},"encoding":{"x":{"field":"x","type":"quantitative","scale":{"domain":[0,661],"range":[0,661]}},"y":{"field":"y","type":"quantitative","scale":{"domain":[0,573],"range":[0,573]}},"y2":{"field":"y2"}}},
{"data":{"name":"rowTree","values":[
{"xv":345,"y1":12,"y2":24,"xa":330,"xb":330},{"xv":360,"y1":6,"y2":21,"xa":353,"xb":345},{"xv":370,"y1":21,"y2":93,"xa":360,"xb":357},{"xv":345,"y1":27,"y2":42,"xa":327,"xb":333},{"xv":333,"y1":31,"y2":40,"xa":327,"xb":327},{"xv":358,"y1":47,"y2":78,"xa":327,"xb":341},{"xv":341,"y1":56,"y2":70,"xa":328,"xb":335},{"xv":335,"y1":60,"y2":66,"xa":326,"xb":326},{"xv":353,"y1":70,"y2":88,"xa":343,"xb":328},{"xv":343,"y1":74,"y2":82,"xa":330,"xb":330},{"xv":332,"y1":76,"y2":80,"xa":326,"xb":326},{"xv":365,"y1":60,"y2":128,"xa":358,"xb":355},{"xv":355,"y1":107,"y2":136,"xa":347,"xb":326},{"xv":347,"y1":103,"y2":120,"xa":342,"xb":328},{"xv":342,"y1":103,"y2":123,"xa":330,"xb":330},{"xv":331,"y1":95,"y2":102,"xa":326,"xb":326},{"xv":328,"y1":117,"y2":124,"xa":325,"xb":325},
{"xv":343,"y1":150,"y2":167,"xa":334,"xb":328},{"xv":334,"y1":150,"y2":156,"xa":326,"xb":326},{"xv":351,"y1":157,"y2":187,"xa":343,"xb":336},{"xv":336,"y1":170,"y2":177,"xa":326,"xb":326},{"xv":348,"y1":177,"y2":197,"xa":326,"xb":329},{"xv":329,"y1":181,"y2":190,"xa":325,"xb":325},{"xv":359,"y1":165,"y2":190,"xa":351,"xb":348},{"xv":368,"y1":160,"y2":288,"xa":330,"xb":365},{"xv":372,"y1":58,"y2":437,"xa":370,"xb":362},{"xv":344,"y1":208,"y2":240,"xa":330,"xb":335},{"xv":330,"y1":204,"y2":216,"xa":326,"xb":326},{"xv":362,"y1":215,"y2":257,"xa":344,"xb":356},{"xv":335,"y1":236,"y2":249,"xa":326,"xb":326},{"xv":342,"y1":264,"y2":293,"xa":330,"xb":330},{"xv":330,"y1":258,"y2":270,"xa":326,"xb":326},{"xv":330,"y1":287,"y2":300,"xa":326,"xb":326},{"xv":356,"y1":250,"y2":278,"xa":362,"xb":342},{"xv":365,"y1":250,"y2":342,"xa":356,"xb":353},{"xv":352,"y1":312,"y2":347,"xa":330,"xb":354},{"xv":354,"y1":325,"y2":357,"xa":334,"xb":340},{"xv":340,"y1":330,"y2":348,"xa":326,"xb":328},{"xv":334,"y1":322,"y2":332,"xa":326,"xb":326},{"xv":340,"y1":355,"y2":360,"xa":326,"xb":326},{"xv":348,"y1":367,"y2":392,"xa":325,"xb":335},{"xv":338,"y1":375,"y2":382,"xa":326,"xb":326},{"xv":335,"y1":380,"y2":392,"xa":326,"xb":326},{"xv":357,"y1":378,"y2":415,"xa":348,"xb":349},{"xv":349,"y1":401,"y2":429,"xa":335,"xb":333},{"xv":335,"y1":397,"y2":405,"xa":326,"xb":326},{"xv":333,"y1":425,"y2":433,"xa":326,"xb":326},{"xv":362,"y1":395,"y2":477,"xa":357,"xb":351},{"xv":351,"y1":454,"y2":502,"xa":342,"xb":331},{"xv":342,"y1":439,"y2":466,"xa":325,"xb":335},{"xv":330,"y1":447,"y2":480,"xa":326,"xb":327},{"xv":332,"y1":497,"y2":507,"xa":325,"xb":325},{"xv":328,"y1":450,"y2":460,"xa":325,"xb":325}
]},"layer":[
{"mark":{"type":"rule","color":"#555","strokeWidth":1},"encoding":{"x":{"field":"xv","type":"quantitative","scale":{"domain":[0,661],"range":[0,661]}},"y":{"field":"y1","type":"quantitative","scale":{"domain":[0,573],"range":[0,573]}},"y2":{"field":"y2"}}},
{"mark":{"type":"rule","color":"#555","strokeWidth":1},"encoding":{"x":{"field":"xa","type":"quantitative","scale":{"domain":[0,661],"range":[0,661]}},"x2":{"field":"xv"},"y":{"field":"y1","type":"quantitative","scale":{"domain":[0,573],"range":[0,573]}}}},
{"mark":{"type":"rule","color":"#555","strokeWidth":1},"encoding":{"x":{"field":"xb","type":"quantitative","scale":{"domain":[0,661],"range":[0,661]}},"x2":{"field":"xv"},"y":{"field":"y2","type":"quantitative","scale":{"domain":[0,573],"range":[0,573]}}}}
]},
{"data":{"name":"colTree","values":[
{"yv":514,"x1":35,"x2":55,"ya":510,"yb":510},{"yv":521,"x1":15,"x2":45,"ya":510,"yb":514},{"yv":525.7,"x1":29,"x2":74.5,"ya":521,"yb":510},{"yv":532.3,"x1":52,"x2":218,"ya":525.7,"yb":530},{"yv":515.7,"x1":115,"x2":155,"ya":510,"yb":510},{"yv":516.5,"x1":125,"x2":135,"ya":510,"yb":510},{"yv":519.3,"x1":95,"x2":139,"ya":510,"yb":515.7},{"yv":527.3,"x1":117,"x2":272,"ya":519.3,"yb":524},{"yv":513.7,"x1":194,"x2":214,"ya":510,"yb":510},{"yv":517.3,"x1":174,"x2":204,"ya":510,"yb":513.7},{"yv":522.7,"x1":189,"x2":234,"ya":517.3,"yb":510},{"yv":530,"x1":164,"x2":219,"ya":527.3,"yb":522.7},{"yv":513.3,"x1":294,"x2":313,"ya":510,"yb":510},{"yv":519,"x1":273,"x2":304,"ya":510,"yb":513.3},{"yv":524,"x1":254,"x2":289,"ya":510,"yb":519}
]},"layer":[
{"mark":{"type":"rule","color":"#555","strokeWidth":1},"encoding":{"x":{"field":"x1","type":"quantitative","scale":{"domain":[0,661],"range":[0,661]}},"x2":{"field":"x2"},"y":{"field":"yv","type":"quantitative","scale":{"domain":[0,573],"range":[0,573]}}}},
{"mark":{"type":"rule","color":"#555","strokeWidth":1},"encoding":{"x":{"field":"x1","type":"quantitative","scale":{"domain":[0,661],"range":[0,661]}},"y":{"field":"ya","type":"quantitative","scale":{"domain":[0,573],"range":[0,573]}},"y2":{"field":"yv"}}},
{"mark":{"type":"rule","color":"#555","strokeWidth":1},"encoding":{"x":{"field":"x2","type":"quantitative","scale":{"domain":[0,661],"range":[0,661]}},"y":{"field":"yb","type":"quantitative","scale":{"domain":[0,573],"range":[0,573]}},"y2":{"field":"yv"}}}
]},
{"data":{"values":[{"x":135,"y":532.3,"y2":537.3}]},"mark":{"type":"rule","color":"#555","strokeWidth":1},"encoding":{"x":{"field":"x","type":"quantitative","scale":{"domain":[0,661],"range":[0,661]}},"y":{"field":"y","type":"quantitative","scale":{"domain":[0,573],"range":[0,573]}},"y2":{"field":"y2"}}},
{"data":{"values":[{"a":5,"b":324,"y":4.5,"y2":22.5},{"a":5,"b":324,"y":22.5,"y2":46},{"a":5,"b":324,"y":46,"y2":71},{"a":5,"b":324,"y":71,"y2":95},{"a":5,"b":324,"y":95,"y2":136},{"a":5,"b":324,"y":136,"y2":140},{"a":5,"b":324,"y":140,"y2":176},{"a":5,"b":324,"y":200,"y2":254},{"a":5,"b":324,"y":254,"y2":305},{"a":5,"b":324,"y":305,"y2":323},{"a":5,"b":324,"y":323,"y2":360},{"a":5,"b":324,"y":360,"y2":393},{"a":5,"b":324,"y":393,"y2":431},{"a":5,"b":324,"y":431,"y2":509}]},"mark":{"type":"rect","fillOpacity":0,"stroke":"#1040d0","strokeWidth":2},"encoding":{"x":{"field":"a","type":"quantitative","scale":{"domain":[0,661],"range":[0,661]}},"x2":{"field":"b"},"y":{"field":"y","type":"quantitative","scale":{"domain":[0,573],"range":[0,573]}},"y2":{"field":"y2"}}},
{"data":{"name":"arrows","values":[{"y":13.5,"a":325,"b":387},{"y":36,"a":325,"b":387},{"y":54,"a":325,"b":387},{"y":78,"a":325,"b":387},{"y":118,"a":325,"b":387},{"y":136,"a":325,"b":387},{"y":144,"a":325,"b":387},{"y":158,"a":325,"b":387},{"y":224,"a":325,"b":387},{"y":283,"a":325,"b":387},{"y":314,"a":325,"b":387},{"y":332,"a":325,"b":387},{"y":378,"a":325,"b":387},{"y":417,"a":325,"b":387},{"y":467,"a":325,"b":387}]},"layer":[
{"mark":{"type":"rule","color":"#1a3fd8","strokeWidth":2},"encoding":{"x":{"field":"a","type":"quantitative","scale":{"domain":[0,661],"range":[0,661]}},"x2":{"field":"b"},"y":{"field":"y","type":"quantitative","scale":{"domain":[0,573],"range":[0,573]}}}},
{"mark":{"type":"point","shape":"M1.3,-1L0,0L1.3,1","filled":false,"size":150,"stroke":"#1a3fd8","strokeWidth":2,"opacity":1},"encoding":{"x":{"field":"a","type":"quantitative","scale":{"domain":[0,661],"range":[0,661]}},"y":{"field":"y","type":"quantitative","scale":{"domain":[0,573],"range":[0,573]}}}}
]},
{"data":{"values":[
{"x":394,"y":14,"t":"Firmicutes ("},{"x":475.7,"y":14,"t":")"},
{"x":394,"y":35,"t":"Firmicutes ("},{"x":491,"y":35,"t":","},{"x":541.1,"y":35,"t":","},{"x":583.8,"y":35,"t":","},{"x":613.9,"y":35,"t":")"},
{"x":394,"y":55,"t":"Firmicutes ("},{"x":475.7,"y":55,"t":","},{"x":529,"y":55,"t":") and Proteobacteria ("},{"x":652.9,"y":55,"t":")"},
{"x":394,"y":78,"t":"Proteobacteria ("},{"x":496.6,"y":78,"t":") and Firmicutes ("},{"x":614.9,"y":78,"t":")"},
{"x":394,"y":119,"t":"Firmicutes ("},{"x":483.1,"y":119,"t":") and Proteobacteria ("},{"x":607,"y":119,"t":")"},
{"x":394,"y":137,"t":"Firmicutes ("},{"x":486.3,"y":137,"t":","},{"x":541.5,"y":137,"t":","},{"x":603.7,"y":137,"t":")"},
{"x":394,"y":146,"t":"Firmicutes ("},{"x":512.8,"y":146,"t":","},{"x":575,"y":146,"t":")"},
{"x":395,"y":159,"t":"Firmicutes ("},{"x":486.9,"y":159,"t":")"},
{"x":395,"y":225,"t":"Firmicutes ("},{"x":486.9,"y":225,"t":","},{"x":540.2,"y":225,"t":")"},
{"x":395,"y":284,"t":"Firmicutes ("},{"x":487.3,"y":284,"t":"-like,"},{"x":557.9,"y":284,"t":")"},
{"x":395,"y":314,"t":"Firmicutes ("},{"x":473.4,"y":314,"t":"-like)"},
{"x":395,"y":332,"t":"Firmicutes ("},{"x":489.2,"y":332,"t":","},{"x":525.4,"y":332,"t":")"},
{"x":395,"y":379,"t":"Firmicutes ("},{"x":485,"y":379,"t":"-like,"},{"x":539.3,"y":379,"t":"-like,"},{"x":607.5,"y":379,"t":")"},
{"x":395,"y":418,"t":"Firmicutes ("},{"x":486.9,"y":418,"t":","},{"x":540.2,"y":418,"t":")"},
{"x":395,"y":468,"t":"Firmicutes ("},{"x":487.3,"y":468,"t":"-like,"},{"x":552.7,"y":468,"t":"-like,"},{"x":605.6,"y":468,"t":"-like)"}
]},"mark":{"type":"text","align":"left","baseline":"middle","font":"Liberation Sans","fontSize":8.35,"color":"#222"},"encoding":{"x":{"field":"x","type":"quantitative","scale":{"domain":[0,661],"range":[0,661]}},"y":{"field":"y","type":"quantitative","scale":{"domain":[0,573],"range":[0,573]}},"text":{"field":"t"}}},
{"data":{"values":[
{"x":437.6,"y":14,"t":"Roseburia"},
{"x":437.6,"y":35,"t":"Butyricicoccus"},{"x":495.6,"y":35,"t":"Oscillibacter"},{"x":545.7,"y":35,"t":"Roseburia"},{"x":588.4,"y":35,"t":"Blautia"},
{"x":437.6,"y":55,"t":"Roseburia"},{"x":480.3,"y":55,"t":"Coprococcus"},{"x":609.8,"y":55,"t":"Escherichia"},
{"x":453.4,"y":78,"t":"Escherichia"},{"x":561.5,"y":78,"t":"Butyricicoccus"},
{"x":437.6,"y":119,"t":"Papillibacter"},{"x":563.8,"y":119,"t":"Escherichia"},
{"x":437.6,"y":137,"t":"Coprococcus"},{"x":491,"y":137,"t":"Coprobacillus"},{"x":546.2,"y":137,"t":"Ethanoligenens"},
{"x":437.6,"y":146,"t":"Parasporobacterium"},{"x":517.4,"y":146,"t":"Ethanoligenens"},
{"x":438.6,"y":159,"t":"Lactobacillus"},
{"x":438.6,"y":225,"t":"Lactobacillus"},{"x":491.5,"y":225,"t":"Coprococcus"},
{"x":438.6,"y":284,"t":"Coprococcus"},{"x":507.3,"y":284,"t":"Coprobacillus"},
{"x":438.6,"y":314,"t":"Clostridia"},
{"x":438.6,"y":332,"t":"Enterococcus"},{"x":493.8,"y":332,"t":"Moryella"},
{"x":438.6,"y":379,"t":"Fastidiospila"},{"x":505,"y":379,"t":"Hespellia"},{"x":559.2,"y":379,"t":"Lactobacillus"},
{"x":438.6,"y":418,"t":"Lactobacillus"},{"x":491.5,"y":418,"t":"Coprococcus"},
{"x":438.6,"y":468,"t":"Coprococcus"},{"x":507.3,"y":468,"t":"Oscillibacter"},{"x":572.7,"y":468,"t":"Garciella"}
]},"mark":{"type":"text","align":"left","baseline":"middle","font":"Liberation Sans","fontStyle":"italic","fontSize":8.35,"color":"#222"},"encoding":{"x":{"field":"x","type":"quantitative","scale":{"domain":[0,661],"range":[0,661]}},"y":{"field":"y","type":"quantitative","scale":{"domain":[0,573],"range":[0,573]}},"text":{"field":"t"}}},
{"data":{"values":[{"a":400,"b":417.5,"y":544,"y2":558,"v":1},{"a":417.5,"b":435,"y":544,"y2":558,"v":3},{"a":435,"b":452.5,"y":544,"y2":558,"v":10},{"a":452.5,"b":470,"y":544,"y2":558,"v":30},{"a":470,"b":487.5,"y":544,"y2":558,"v":100},{"a":487.5,"b":505,"y":544,"y2":558,"v":300},{"a":505,"b":522.7,"y":544,"y2":558,"v":1000}]},"mark":{"type":"rect","stroke":"#fff","strokeWidth":0.5},"encoding":{"x":{"field":"a","type":"quantitative","scale":{"domain":[0,661],"range":[0,661]}},"x2":{"field":"b"},"y":{"field":"y","type":"quantitative","scale":{"domain":[0,573],"range":[0,573]}},"y2":{"field":"y2"},"color":{"field":"v","type":"quantitative","scale":{"type":"linear","domain":[1,3,10,30,100,300,1000],"range":["#00c46a","#00e000","#66e600","#f5c400","#ff8000","#ff3300","#cc0000"]}}}},
{"data":{"values":[{"x":400,"y":534,"t":"1"},{"x":436,"y":534,"t":"10"},{"x":479,"y":534,"t":"100"},{"x":523,"y":534,"t":"1000"}]},"mark":{"type":"text","align":"center","baseline":"middle","font":"Liberation Sans","fontSize":13.8,"color":"#111"},"encoding":{"x":{"field":"x","type":"quantitative","scale":{"domain":[0,661],"range":[0,661]}},"y":{"field":"y","type":"quantitative","scale":{"domain":[0,573],"range":[0,573]}},"text":{"field":"t"}}}
]}
]}
